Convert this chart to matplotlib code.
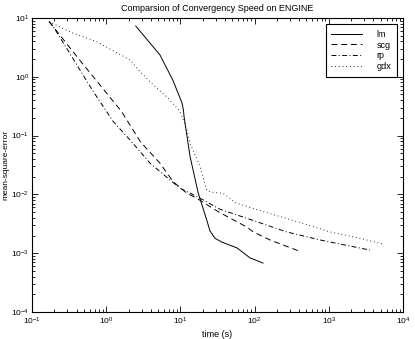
import numpy as np
import matplotlib
matplotlib.use("Agg")
import matplotlib.pyplot as plt
from matplotlib.ticker import LogLocator, NullFormatter

plt.rcParams.update({
    "font.family": ["Liberation Sans", "DejaVu Sans"],
    "mathtext.fontset": "custom",
    "mathtext.rm": "Liberation Sans",
    "mathtext.it": "Liberation Sans:italic",
    "font.size": 6.5,
})

# training time (s) vs mean-square-error for each algorithm
lm_t = [2.5, 5.3, 7.9, 10.5, 11.0, 11.2, 13.5, 17.4, 22.6, 25, 29.2, 36, 58, 87, 130]
lm_e = [7.3, 2.35, 0.88, 0.36, 0.27, 0.21, 0.044, 0.0105, 0.0037, 0.0024, 0.0018, 0.00155, 0.00123, 0.00083, 0.00068]

scg_t = [0.17, 0.238, 0.45, 0.82, 1.6, 2.9, 5.3, 8.0, 12.2, 16.6, 25, 34, 78, 96, 161, 388]
scg_e = [8.7, 5.1, 1.85, 0.73, 0.26, 0.078, 0.034, 0.0164, 0.0105, 0.0086, 0.0062, 0.0049, 0.0028, 0.0023, 0.00168, 0.0011]

rp_t = [0.17, 0.194, 0.36, 0.67, 1.25, 2.1, 3.89, 7.24, 9.9, 13.5, 19.4, 34, 90, 270, 760, 3590]
rp_e = [8.7, 7.1, 2.0, 0.56, 0.172, 0.084, 0.034, 0.0176, 0.0127, 0.0105, 0.0083, 0.0056, 0.0037, 0.0023, 0.00168, 0.00113]

gdx_t = [0.17, 0.325, 0.745, 1.19, 2.1, 2.86, 4.3, 6.5, 9.6, 10.4, 12.2, 13.5, 18.4, 22.6, 25, 37.8, 57, 131, 454, 1040, 2630, 5420]
gdx_e = [8.7, 5.8, 3.95, 2.86, 1.93, 1.22, 0.73, 0.46, 0.27, 0.22, 0.125, 0.074, 0.0296, 0.0119, 0.011, 0.0104, 0.0071, 0.0051, 0.0032, 0.0023, 0.00179, 0.00143]

fig = plt.figure(figsize=(4.15, 3.39), dpi=100)
ax = fig.add_axes([0.0771, 0.0796, 0.894, 0.8674])

lw = 0.7
ax.loglog(lm_t, lm_e, "-", color="black", lw=lw, label="lm")
ax.loglog(scg_t, scg_e, color="black", lw=lw, dashes=(6, 4), label="scg")
ax.loglog(rp_t, rp_e, color="black", lw=lw, dashes=(5, 2.5, 1, 2.5), label="rp")
ax.loglog(gdx_t, gdx_e, color="black", lw=lw, dashes=(0.8, 3), label="gdx")

ax.set_xlim(1e-1, 1e4)
ax.set_ylim(1e-4, 1e1)
ax.xaxis.set_major_locator(LogLocator(base=10, numticks=10))
ax.yaxis.set_major_locator(LogLocator(base=10, numticks=10))
ax.xaxis.set_minor_locator(LogLocator(base=10, subs=np.arange(2, 10), numticks=20))
ax.yaxis.set_minor_locator(LogLocator(base=10, subs=np.arange(2, 10), numticks=20))
ax.xaxis.set_minor_formatter(NullFormatter())
ax.yaxis.set_minor_formatter(NullFormatter())
ax.tick_params(which="both", direction="in", top=True, right=True, width=0.6, labelsize=6)
ax.tick_params(which="major", length=4, pad=3)
ax.tick_params(axis="y", which="major", pad=2)
ax.tick_params(which="minor", length=2)
for s in ax.spines.values():
    s.set_linewidth(0.8)

ax.set_title("Comparsion of Convergency Speed on ENGINE", fontsize=6.5, pad=5)
ax.set_xlabel("time (s)", fontsize=6.5, labelpad=2)
ax.set_ylabel("mean-square-error", fontsize=6)
ax.yaxis.set_label_coords(-0.06, 0.5)

leg = ax.legend(loc="upper right", fancybox=False, edgecolor="black",
                framealpha=1, fontsize=6.5, handlelength=3.4, handletextpad=1.6,
                labelspacing=0.2, borderpad=0.6, borderaxespad=0.7)
leg.get_frame().set_linewidth(0.8)

fig.savefig("out.png", dpi=100)
